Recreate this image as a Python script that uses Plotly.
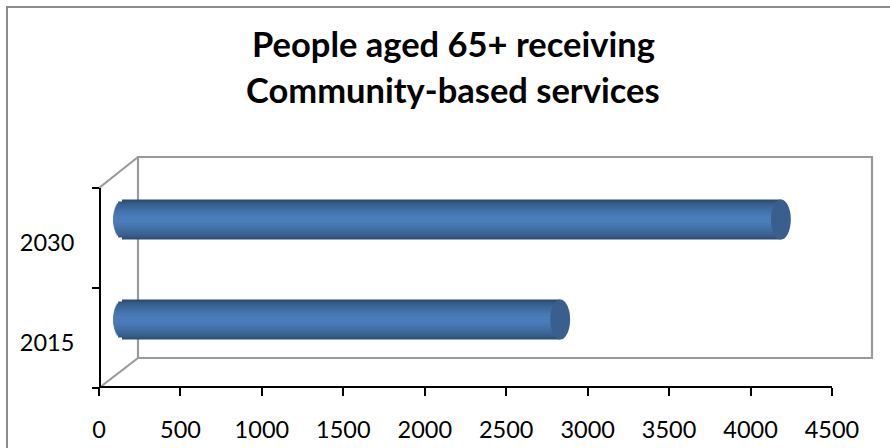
import plotly.graph_objects as go

W, H = 890, 448

# Chart data
years = ["2015", "2030"]
people = [2690, 4045]
x_ticks = [0, 500, 1000, 1500, 2000, 2500, 3000, 3500, 4000, 4500]
title_lines = ["People aged 65+ receiving", "Community-based services"]
title_rows = [44, 89.5]

# Shading of the cylinder, from its outer edge to its centre line
shade_top = ["#2c4d75", "#33577f", "#38608f", "#3b6596", "#3e6a9d", "#4170a6", "#4474ac", "#4678b2", "#487bb7", "#4a7ebb"]
shade_bottom = ["#2f5179", "#355a84", "#3a6290", "#3c6697", "#3f6b9e", "#4270a6", "#4474ac", "#4678b2", "#487bb7", "#4a7ebb"]
cap_colour = "#3a5f8e"
frame_colour = "#8c8c8c"
wall_colour = "#9a9a9a"
axis_colour = "#000000"
FONT = "Lato"


def fx(px):
    return px / W


def fy(px):
    return 1 - px / H


BAR_WIDTH = 0.4
CAP_LEFT = 55
CAP_RIGHT = 61

# The cylinders' axis runs a little below zero so the rounded left ends stay inside it
PX_PER_UNIT = (832 - 99) / 4500
BAR_AXIS_MIN = -100
BAR_ORIGIN_PX = 122

fig = go.Figure()

# Nested bars build up the cylinder's gradient; the start of each one follows the rounded left end
n = len(shade_top)
for half, colours in ((1, shade_top), (0, shade_bottom)):
    for i, colour in enumerate(colours):
        t = 1 - i / n
        inset = CAP_LEFT * (1 - t * t) ** 0.5
        width = BAR_WIDTH * t / 2
        offset = 0 if half else -width
        fig.add_trace(go.Bar(
            y=years, x=[v + inset for v in people], base=[-inset] * len(years),
            orientation="h", width=width, offset=offset,
            marker=dict(color=colour, line=dict(width=0)),
            xaxis="x2", yaxis="y2", showlegend=False, hoverinfo="skip",
        ))

wall_line = dict(color=wall_colour, width=2.2)
frame_line = dict(color=frame_colour, width=2)
shapes = [
    # Back wall and floor/side depth lines
    dict(type="rect", xref="paper", yref="paper", x0=fx(138), x1=fx(872), y0=fy(358), y1=fy(157),
         line=wall_line, layer="below"),
    dict(type="line", xref="paper", yref="paper", x0=fx(99), x1=fx(138), y0=fy(188), y1=fy(157),
         line=wall_line, layer="below"),
    dict(type="line", xref="paper", yref="paper", x0=fx(99), x1=fx(138), y0=fy(388), y1=fy(358),
         line=wall_line, layer="below"),
    # Outer chart frame: only its top and left sides fall inside the page
    dict(type="line", xref="paper", yref="paper", x0=fx(6), x1=1, y0=fy(7), y1=fy(7),
         line=frame_line, layer="below"),
    dict(type="line", xref="paper", yref="paper", x0=fx(7), x1=fx(7), y0=fy(6), y1=0,
         line=frame_line, layer="below"),
]
# Flat end of each cylinder
for i, v in enumerate(people):
    shapes.append(dict(type="circle", xref="x2", yref="y2", x0=v - CAP_RIGHT, x1=v + CAP_RIGHT,
                       y0=i - BAR_WIDTH / 2, y1=i + BAR_WIDTH / 2,
                       fillcolor=cap_colour, line=dict(width=0), layer="above"))

title_annotations = [
    dict(text=f"<b>{line}</b>", xref="paper", yref="paper", x=fx(453), y=fy(row), showarrow=False,
         xanchor="center", yanchor="middle", align="center",
         font=dict(family=FONT, size=34.5, color="#000000"))
    for line, row in zip(title_lines, title_rows)
]

fig.update_layout(
    width=W, height=H, autosize=False,
    margin=dict(l=0, r=0, t=0, b=0, autoexpand=False),
    paper_bgcolor="white", plot_bgcolor="rgba(0,0,0,0)",
    barmode="overlay", showlegend=False,
    shapes=shapes,
    font=dict(family=FONT, color="#000000"),
    annotations=title_annotations,
    xaxis=dict(domain=[fx(99), fx(832)], range=[0, 4500], tickvals=x_ticks, ticks="outside",
               ticklen=8, tickwidth=1.5, tickcolor=axis_colour, showline=True, linecolor=axis_colour,
               linewidth=2, showgrid=False, zeroline=False, anchor="free", position=fy(387),
               automargin=False, tickfont=dict(size=23.5), ticklabelstandoff=14),
    yaxis=dict(domain=[fy(388), fy(188)], type="category", categoryorder="array", categoryarray=years,
               range=[-0.5, 1.5], tickson="boundaries", ticks="outside", ticklen=7, tickwidth=1.5,
               tickcolor=axis_colour, showline=True, linecolor=axis_colour, linewidth=2,
               showgrid=False, zeroline=False, anchor="free", position=fx(100), automargin=False,
               tickfont=dict(size=23.5), ticklabelstandoff=20, ticklabelshift=5),
    xaxis2=dict(domain=[fx(BAR_ORIGIN_PX + BAR_AXIS_MIN * PX_PER_UNIT), fx(BAR_ORIGIN_PX + 4500 * PX_PER_UNIT)],
                range=[BAR_AXIS_MIN, 4500], visible=False, anchor="y2", automargin=False),
    yaxis2=dict(domain=[fy(369.5), fy(169.5)], type="category", categoryorder="array", categoryarray=years,
                range=[-0.5, 1.5], visible=False, anchor="x2", automargin=False),
)
# Keep the visible axes present with an empty trace
fig.add_trace(go.Bar(y=years, x=[0, 0], orientation="h", xaxis="x", yaxis="y", showlegend=False, hoverinfo="skip"))

fig.write_html("out.html", config=dict(displayModeBar=False))
